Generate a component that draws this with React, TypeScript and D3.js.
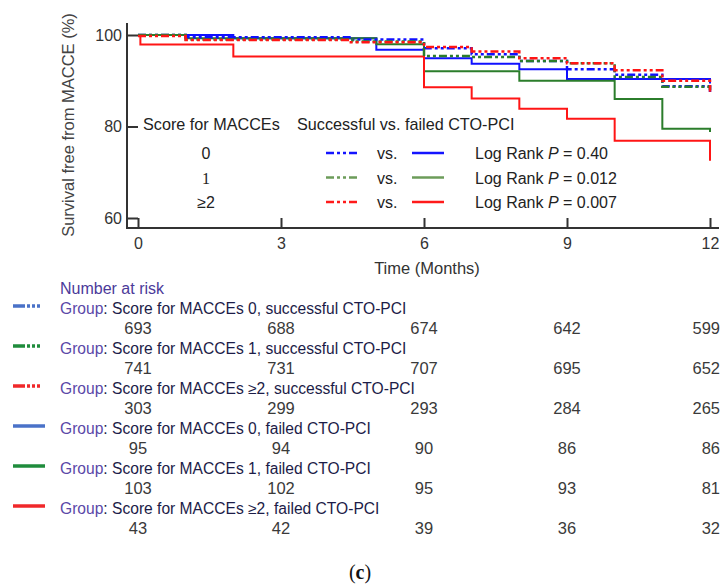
import React, { useRef, useEffect } from "react";
import * as d3 from "d3";

// Kaplan-Meier steps: [month, survival %]
const succ0: [number, number][] = [[0, 100], [1, 99.5], [4.5, 99.0], [6, 97.1], [7, 95.8], [8, 94.3], [9, 92.5], [10, 91.3], [11, 88.8], [12, 86.9]];
const succ1: [number, number][] = [[0, 100], [1, 99.0], [4.5, 98.6], [6, 95.4], [7, 95.2], [8, 94.3], [9, 93.8], [10, 90.8], [11, 88.7], [12, 88.0]];
const succ2: [number, number][] = [[0, 99.8], [1, 98.9], [4.4, 98.4], [6, 97.4], [7, 96.4], [8, 94.9], [9, 93.8], [10, 92.3], [11, 90.0], [12, 87.6]];
const fail0: [number, number][] = [[0, 100], [2, 99.3], [5, 96.8], [6, 94.9], [7, 93.7], [8, 92.5], [9, 90.4], [12, 89.4]];
const fail1: [number, number][] = [[0, 100], [1, 99.3], [5, 98.0], [6, 92.1], [8, 90.0], [10, 86.0], [11, 79.5], [12, 78.8]];
const fail2: [number, number][] = [[0, 100], [0.05, 97.9], [2, 95.3], [6, 88.6], [7, 86.1], [8, 83.9], [9, 81.7], [10, 76.9], [12, 72.5]];

const xTicks = [0, 3, 6, 9, 12];
const yTicks = [60, 80, 100];

const scoreLabels = ["0", "1", "\u22652"];
const pValues = ["0.40", "0.012", "0.007"];

const groupNames = [
  "Score for MACCEs 0, successful CTO-PCI",
  "Score for MACCEs 1, successful CTO-PCI",
  "Score for MACCEs \u22652, successful CTO-PCI",
  "Score for MACCEs 0, failed CTO-PCI",
  "Score for MACCEs 1, failed CTO-PCI",
  "Score for MACCEs \u22652, failed CTO-PCI",
];
const atRisk = [
  [693, 688, 674, 642, 599],
  [741, 731, 707, 695, 652],
  [303, 299, 293, 284, 265],
  [95, 94, 90, 86, 86],
  [103, 102, 95, 93, 81],
  [43, 42, 39, 36, 32],
];

const plotColors = ["#1010ff", "#2b7d2b", "#ff1515"];
const legendColors = ["#1414ff", "#6c9c5a", "#ff1a1a"];
const tableColors = ["#4a72c8", "#1f8c3c", "#f0282a"];
const dashDot = "8,3,3,3,3,3";

export default function App() {
  const width = 721;
  const height = 587;
  const xAxisRef = useRef<SVGGElement>(null);
  const yAxisRef = useRef<SVGGElement>(null);

  const x = d3.scaleLinear().domain([0, 12]).range([138, 710]);
  const y = d3.scaleLinear().domain([60, 100]).range([218, 35]);
  const axisY = 228;
  const axisX = 127;
  const font = "Liberation Sans, Arial, sans-serif";

  const line = d3
    .line<[number, number]>()
    .x((d) => x(d[0]))
    .y((d) => y(d[1]))
    .curve(d3.curveStepAfter);

  useEffect(() => {
    const gx = d3.select(xAxisRef.current!);
    gx.call(d3.axisBottom(x).tickValues(xTicks).tickSize(-10).tickPadding(10).tickSizeOuter(0));
    gx.select(".domain").remove();
    gx.selectAll("line").attr("stroke", "#333").attr("stroke-width", 2);
    gx.selectAll("text").attr("font-size", 16).attr("fill", "#333").attr("font-family", font);

    const gy = d3.select(yAxisRef.current!);
    gy.call(d3.axisLeft(y).tickValues(yTicks).tickSize(-11).tickPadding(5).tickSizeOuter(0));
    gy.select(".domain").remove();
    gy.selectAll("line").attr("stroke", "#333").attr("stroke-width", 2);
    gy.selectAll("text").attr("font-size", 16).attr("fill", "#333").attr("font-family", font);
  }, []);

  const succ = [succ0, succ1, succ2];
  const fail = [fail0, fail1, fail2];
  const lastCol = xTicks.length - 1;

  return (
    <svg width={width} height={height} style={{ position: "absolute", left: 0, top: 0, background: "#fff" }} fontFamily={font}>
      {/* axes */}
      <line x1={axisX} x2={axisX} y1={23} y2={axisY + 1} stroke="#333" strokeWidth={2} />
      <line x1={axisX - 1} x2={719} y1={axisY} y2={axisY} stroke="#333" strokeWidth={2} />
      <g ref={xAxisRef} transform={`translate(0,${axisY})`} />
      <g ref={yAxisRef} transform={`translate(${axisX},0)`} />
      <text transform="translate(74,125) rotate(-90)" textAnchor="middle" fontSize={16.5} fill="#444">
        Survival free from MACCE (%)
      </text>
      <text x={427} y={274} textAnchor="middle" fontSize={16.5} fill="#333">
        Time (Months)
      </text>

      {/* curves */}
      {fail.map((s, i) => (
        <path key={"f" + i} d={line(s) ?? ""} fill="none" stroke={plotColors[i]} strokeWidth={2} />
      ))}
      {succ.map((s, i) => (
        <path key={"s" + i} d={line(s) ?? ""} fill="none" stroke={plotColors[i]} strokeWidth={2.5} strokeDasharray={dashDot} />
      ))}

      {/* in-plot legend */}
      <text x={143} y={130} fontSize={16.2} fill="#222">Score for MACCEs</text>
      <text x={297} y={130} fontSize={16.2} fill="#222">Successful vs. failed CTO-PCI</text>
      {scoreLabels.map((s, i) => (
        <g key={"lg" + i} transform={`translate(0,${153 + i * 24.5})`}>
          <text x={206} y={6} textAnchor="middle" fontSize={16} fill="#222" fontFamily={i === 1 ? "Liberation Serif, serif" : font}>
            {s}
          </text>
          <line x1={326} x2={359} stroke={legendColors[i]} strokeWidth={2.5} strokeDasharray={dashDot} />
          <text x={377} y={6} fontSize={16} fill="#222">vs.</text>
          <line x1={412} x2={444} stroke={legendColors[i]} strokeWidth={2.5} />
          <text x={475} y={6} fontSize={16} fill="#222">
            Log Rank <tspan fontStyle="italic">P</tspan> = {pValues[i]}
          </text>
        </g>
      ))}

      {/* number at risk table */}
      <text x={60} y={294} fontSize={16} fill="#4b3a9a">Number at risk</text>
      {groupNames.map((g, i) => {
        const gy = 308 + i * 40;
        return (
          <g key={"r" + i}>
            <line
              x1={13}
              x2={45}
              y1={gy - 2}
              y2={gy - 2}
              stroke={tableColors[i % 3]}
              strokeWidth={3.5}
              strokeDasharray={i < 3 ? "12,2,3,2,3,2,3,5" : undefined}
            />
            <text x={60} y={gy + 5.5} fontSize={15.6} fill="#1c1c48">
              <tspan fill="#5a48a8">Group</tspan>: {g}
            </text>
            {atRisk[i].map((n, j) => (
              <text
                key={j}
                x={j === lastCol ? x(xTicks[j]) + 10 : x(xTicks[j])}
                y={gy + 26}
                textAnchor={j === lastCol ? "end" : "middle"}
                fontSize={16.5}
                fill="#3a3a3a"
              >
                {n}
              </text>
            ))}
          </g>
        );
      })}

      <text x={360} y={579} textAnchor="middle" fontSize={20} fill="#111" fontFamily="Liberation Serif, serif">
        (<tspan fontWeight="bold">c</tspan>)
      </text>
    </svg>
  );
}
